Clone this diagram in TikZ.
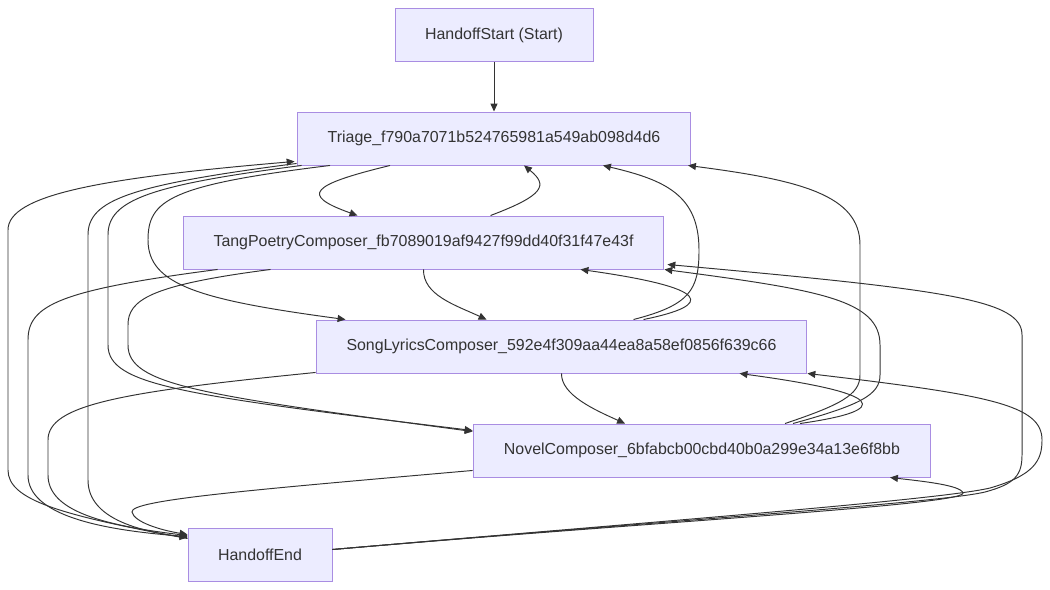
\documentclass[tikz,border=0pt]{standalone}
\usepackage{fontspec}
\setmainfont{Liberation Sans}
\usepackage{xcolor}
\usetikzlibrary{arrows.meta, calc}
\definecolor{boxfill}{HTML}{ECECFF}
\definecolor{boxline}{HTML}{9370DB}
\definecolor{ink}{HTML}{333333}

\begin{document}
\begin{tikzpicture}[
    x=0.02cm, y=-0.02cm,
    box/.style={draw=boxline!80, fill=boxfill, line width=0.55pt, minimum height=1.06cm, inner sep=0pt, text=ink, font=\fontsize{9.07}{11}\selectfont},
    link/.style={draw=ink, line width=0.55pt, -{Triangle[length=4.5pt, width=4pt]}},
]
    \useasboundingbox (0,0) rectangle (1050,590);

    \node[box, minimum width=3.96cm] (start) at (494,35) {HandoffStart (Start)};
    \node[box, minimum width=7.88cm] (triage) at (494,138.5) {Triage\_f790a7071b524765981a549ab098d4d6};
    \node[box, minimum width=9.62cm] (tang) at (423.5,242.5) {TangPoetryComposer\_fb7089019af9427f99dd40f31f47e43f};
    \node[box, minimum width=9.82cm] (song) at (561.5,346.5) {SongLyricsComposer\_592e4f309aa44ea8a58ef0856f639c66};
    \node[box, minimum width=9.16cm] (novel) at (702,450.5) {NovelComposer\_6bfabcb00cbd40b0a299e34a13e6f8bb};
    \node[box, minimum width=2.88cm] (hend) at (260,554.5) {HandoffEnd};

    \draw[link] (start) -- (triage);

    % triage <-> tang
    \draw[link] ($(triage.south)+(-104,0)$) .. controls (310,185) and (300,195) .. ($(tang.north)+(-66,0)$);
    \draw[link] ($(tang.north)+(67,0)$) .. controls (545,195) and (548,185) .. ($(triage.south)+(30,0)$);

    % triage <-> song
    \draw[link] ($(triage.south)+(-164,0)$) .. controls (170,185) and (148,200) .. (148,240)
        .. controls (148,285) and (200,300) .. ($(song.north)+(-216,0)$);
    \draw[link] ($(song.north)+(72,0)$) .. controls (690,305) and (699,290) .. (699,250)
        .. controls (699,195) and (665,180) .. ($(triage.south)+(109,0)$);

    % tang <-> song
    \draw[link] (tang.south) .. controls (423,295) and (455,305) .. ($(song.north)+(-75,0)$);
    \draw[link] ($(song.north)+(82,0)$) .. controls (715,305) and (712,288) .. ($(tang.south)+(157,0)$);

    % song <-> novel
    \draw[link] (song.south) .. controls (561,395) and (595,410) .. ($(novel.north)+(-77,0)$);
    \draw[link] ($(novel.north)+(98,0)$) .. controls (895,410) and (885,393) .. ($(song.south)+(178,0)$);

    % novel -> triage, novel -> tang
    \draw[link] ($(novel.north)+(83,0)$) .. controls (840,405) and (860,395) .. (860,375) -- (860,245)
        .. controls (860,195) and (800,180) .. ($(triage.south)+(194,0)$);
    \draw[link] ($(novel.north)+(91,0)$) .. controls (860,405) and (880,395) .. (880,375) -- (880,345)
        .. controls (880,300) and (820,290) .. (tang.south east);

    % triage -> novel, tang -> novel
    \draw[link] ($(triage.south west)+(5,0)$) .. controls (150,185) and (108,200) .. (108,235) -- (108,345)
        .. controls (108,385) and (180,395) .. ($(novel.west)+(0,-20)$);
    \draw[link] ($(tang.south)+(-153,0)$) .. controls (150,285) and (128,300) .. (128,325) -- (128,345)
        .. controls (128,385) and (200,395) .. ($(novel.west)+(0,-19)$);

    % handoff end
    \draw[link] ($(hend.east)+(0,-5)$) .. controls (650,522) and (965,505) .. (963,493)
        .. controls (961,485) and (920,481) .. ($(novel.south)+(188,0)$);
    \draw[link] ($(hend.east)+(0,-5)$) .. controls (650,522) and (940,500) .. (990,488)
        .. controls (1035,475) and (1042,460) .. (1042,440)
        .. controls (1042,405) and (990,395) .. (song.south east);
    \draw[link] ($(hend.east)+(0,-5)$) .. controls (650,522) and (940,503) .. (985,492)
        .. controls (1015,484) and (1022,475) .. (1022,455) -- (1022,335)
        .. controls (1022,300) and (950,290) .. ($(tang.south east)+(3,-5)$);
    \draw[link] ($(hend.north west)+(0,11)$) .. controls (60,515) and (8,500) .. (8,470) -- (8,230)
        .. controls (8,195) and (100,178) .. ($(triage.south west)+(-2,-4)$);

    \draw[link] ($(novel.south west)+(0,-7)$) .. controls (250,490) and (130,500) .. (132,512)
        .. controls (134,522) and (160,530) .. ($(hend.north west)+(0,7)$);
    \draw[link] ($(song.south west)+(0,-1)$) .. controls (120,392) and (48,405) .. (48,440) -- (48,475)
        .. controls (48,510) and (100,525) .. ($(hend.north west)+(0,8)$);
    \draw[link] ($(tang.south west)+(35,0)$) .. controls (60,290) and (28,305) .. (28,340) -- (28,475)
        .. controls (28,515) and (100,530) .. ($(hend.north west)+(0,9)$);
    \draw[link] ($(triage.south west)+(0,-2)$) .. controls (130,185) and (88,200) .. (88,235) -- (88,480)
        .. controls (88,515) and (130,530) .. ($(hend.north west)+(0,10)$);
\end{tikzpicture}
\end{document}
